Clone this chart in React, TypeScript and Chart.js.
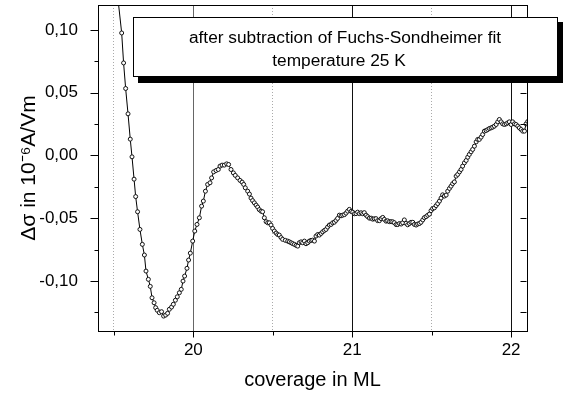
import React, { useEffect, useRef } from 'react';
import { Chart, registerables } from 'chart.js';

Chart.register(...registerables);

// ---- data ----
const coverage = [
  19.519, 19.528, 19.549, 19.561, 19.574, 19.589, 19.603, 19.614, 19.627, 19.637,
  19.649, 19.664, 19.679, 19.692, 19.702, 19.717, 19.729, 19.740, 19.753, 19.763,
  19.773, 19.786, 19.800, 19.813, 19.826, 19.838, 19.849, 19.863, 19.874, 19.887,
  19.899, 19.912, 19.924, 19.935, 19.945, 19.960, 19.970, 19.981, 19.996, 20.009,
  20.023, 20.038, 20.052, 20.063, 20.076, 20.090, 20.105, 20.115, 20.128, 20.143,
  20.157, 20.168, 20.181, 20.195, 20.210, 20.222, 20.237, 20.252, 20.264, 20.279,
  20.294, 20.307, 20.317, 20.327, 20.342, 20.353, 20.363, 20.373, 20.384, 20.395,
  20.405, 20.415, 20.426, 20.436, 20.447, 20.458, 20.468, 20.478, 20.489, 20.499,
  20.510, 20.521, 20.531, 20.541, 20.552, 20.562, 20.579, 20.594, 20.604, 20.615,
  20.625, 20.636, 20.647, 20.657, 20.667, 20.678, 20.688, 20.699, 20.709, 20.720,
  20.730, 20.741, 20.751, 20.762, 20.772, 20.783, 20.793, 20.804, 20.814, 20.825,
  20.835, 20.845, 20.856, 20.867, 20.877, 20.888, 20.898, 20.908, 20.919, 20.930,
  20.940, 20.951, 20.961, 20.971, 20.982, 20.993, 21.003, 21.014, 21.024, 21.034,
  21.045, 21.056, 21.066, 21.076, 21.087, 21.097, 21.108, 21.119, 21.129, 21.139,
  21.150, 21.160, 21.171, 21.182, 21.192, 21.202, 21.213, 21.223, 21.234, 21.245,
  21.255, 21.265, 21.276, 21.286, 21.297, 21.308, 21.318, 21.328, 21.339, 21.349,
  21.360, 21.370, 21.381, 21.391, 21.402, 21.412, 21.423, 21.433, 21.444, 21.454,
  21.465, 21.475, 21.486, 21.496, 21.506, 21.517, 21.528, 21.538, 21.549, 21.559,
  21.569, 21.580, 21.591, 21.601, 21.612, 21.622, 21.632, 21.643, 21.654, 21.664,
  21.675, 21.685, 21.695, 21.706, 21.717, 21.727, 21.737, 21.748, 21.758, 21.769,
  21.780, 21.790, 21.800, 21.811, 21.821, 21.832, 21.843, 21.853, 21.863, 21.874,
  21.884, 21.895, 21.906, 21.916, 21.926, 21.937, 21.947, 21.958, 21.969, 21.979,
  21.989, 22.000, 22.010, 22.021, 22.031, 22.042, 22.052, 22.063, 22.073, 22.084,
  22.094, 22.105,
];

const deltaSigma = [
  0.1508, 0.1222, 0.0977, 0.0738, 0.0534, 0.0332, 0.0130, -0.0011, -0.0189, -0.0328,
  -0.0449, -0.0590, -0.0709, -0.0794, -0.0922, -0.0988, -0.1044, -0.1135, -0.1175, -0.1214,
  -0.1235, -0.1254, -0.1246, -0.1281, -0.1273, -0.1259, -0.1227, -0.1209, -0.1187, -0.1155,
  -0.1127, -0.1095, -0.1068, -0.1002, -0.0962, -0.0900, -0.0834, -0.0779, -0.0683, -0.0603,
  -0.0550, -0.0497, -0.0404, -0.0364, -0.0285, -0.0231, -0.0218, -0.0179, -0.0131, -0.0120,
  -0.0112, -0.0085, -0.0077, -0.0077, -0.0067, -0.0072, -0.0112, -0.0139, -0.0159, -0.0179,
  -0.0199, -0.0213, -0.0231, -0.0258, -0.0285, -0.0308, -0.0340, -0.0360, -0.0378, -0.0396,
  -0.0412, -0.0432, -0.0444, -0.0449, -0.0497, -0.0528, -0.0537, -0.0537, -0.0555, -0.0582,
  -0.0603, -0.0619, -0.0631, -0.0635, -0.0655, -0.0669, -0.0677, -0.0683, -0.0689, -0.0696,
  -0.0703, -0.0709, -0.0717, -0.0723, -0.0696, -0.0689, -0.0696, -0.0683, -0.0704, -0.0696,
  -0.0683, -0.0677, -0.0675, -0.0683, -0.0643, -0.0630, -0.0635, -0.0622, -0.0609, -0.0598,
  -0.0590, -0.0571, -0.0555, -0.0550, -0.0537, -0.0532, -0.0518, -0.0502, -0.0476, -0.0481,
  -0.0476, -0.0472, -0.0460, -0.0444, -0.0430, -0.0446, -0.0452, -0.0465, -0.0464, -0.0452,
  -0.0464, -0.0457, -0.0465, -0.0456, -0.0476, -0.0488, -0.0500, -0.0500, -0.0508, -0.0505,
  -0.0504, -0.0520, -0.0520, -0.0504, -0.0494, -0.0510, -0.0524, -0.0521, -0.0528, -0.0528,
  -0.0529, -0.0536, -0.0551, -0.0551, -0.0543, -0.0547, -0.0537, -0.0514, -0.0541, -0.0553,
  -0.0543, -0.0533, -0.0533, -0.0550, -0.0555, -0.0547, -0.0543, -0.0533, -0.0514, -0.0496,
  -0.0488, -0.0477, -0.0468, -0.0440, -0.0424, -0.0418, -0.0400, -0.0384, -0.0364, -0.0340,
  -0.0314, -0.0324, -0.0316, -0.0285, -0.0263, -0.0245, -0.0225, -0.0211, -0.0165, -0.0151,
  -0.0131, -0.0112, -0.0085, -0.0059, -0.0040, -0.0014, 0.0008, 0.0029, 0.0048, 0.0074,
  0.0108, 0.0128, 0.0128, 0.0146, 0.0167, 0.0194, 0.0199, 0.0207, 0.0215, 0.0220,
  0.0226, 0.0234, 0.0247, 0.0268, 0.0287, 0.0268, 0.0252, 0.0247, 0.0252, 0.0260,
  0.0268, 0.0247, 0.0268, 0.0252, 0.0247, 0.0234, 0.0220, 0.0207, 0.0194, 0.0194,
  0.0252, 0.0271,
];

const xMajorTicks = [20, 21, 22];
const xMinorTicks = [19.5, 20.5, 21.5];
const yMajorTicks = [-0.1, -0.05, 0, 0.05, 0.1];
const yMinorTicks = [-0.125, -0.075, -0.025, 0.025, 0.075];
const xRange = [19.4, 22.1];
const yRange = [-0.14, 0.12];
const xTitle = 'coverage in ML';
const yTitle = 'Δσ in 10⁻⁶A/Vm';
const noteLines = ['after subtraction of Fuchs-Sondheimer fit', 'temperature 25 K'];

const FONT = "'Liberation Sans', Arial, sans-serif";

const isIn = (arr: number[], v: number) => arr.some((a) => Math.abs(a - v) < 1e-9);

const fmtY = (v: number) => {
  const r = Math.round(v * 100) / 100;
  const s = Math.abs(r) < 1e-9 ? '0.00' : r.toFixed(2);
  return s.replace('.', ',');
};

const zeroPad = (s: any) => {
  s.paddingTop = 0;
  s.paddingBottom = 0;
  s.paddingLeft = 0;
  s.paddingRight = 0;
};

const decorPlugin = {
  id: 'decor',
  afterDraw(chart: any) {
    const ctx = chart.ctx as CanvasRenderingContext2D;
    const { left, right, bottom } = chart.chartArea;
    const xs = chart.scales.x;
    const ys = chart.scales.y;
    ctx.save();
    ctx.strokeStyle = '#000';
    ctx.lineWidth = 1;
    ctx.beginPath();
    const L = Math.round(left) + 0.5;
    const R = Math.round(right) - 0.5;
    const B = Math.round(bottom) + 0.5;
    yMajorTicks.forEach((v) => {
      const p = Math.round(ys.getPixelForValue(v)) + 0.5;
      ctx.moveTo(L - 8, p); ctx.lineTo(L, p);
      ctx.moveTo(R - 6, p); ctx.lineTo(R, p);
    });
    yMinorTicks.forEach((v) => {
      const p = Math.round(ys.getPixelForValue(v)) + 0.5;
      ctx.moveTo(L - 4, p); ctx.lineTo(L, p);
      ctx.moveTo(R - 6, p); ctx.lineTo(R, p);
    });
    xMajorTicks.forEach((v) => {
      const p = Math.round(xs.getPixelForValue(v)) + 0.5;
      ctx.moveTo(p, B); ctx.lineTo(p, B + 6);
    });
    xMinorTicks.forEach((v) => {
      const p = Math.round(xs.getPixelForValue(v)) + 0.5;
      ctx.moveTo(p, B); ctx.lineTo(p, B + 4);
    });
    ctx.stroke();

    // annotation text box with drop shadow
    ctx.fillStyle = '#000';
    ctx.fillRect(138, 22, 425, 61);
    ctx.fillStyle = '#fff';
    ctx.fillRect(133, 17, 424, 60);
    ctx.strokeRect(133.5, 17.5, 424, 59);
    ctx.fillStyle = '#000';
    ctx.font = `17.3px ${FONT}`;
    ctx.textAlign = 'center';
    ctx.textBaseline = 'alphabetic';
    ctx.fillText(noteLines[0], 345, 43);
    ctx.fillText(noteLines[1], 339, 66);
    ctx.restore();
  },
};

export default function App() {
  const ref = useRef<HTMLCanvasElement | null>(null);

  useEffect(() => {
    if (!ref.current) return;
    const points = coverage.map((x, i) => ({ x, y: deltaSigma[i] }));
    const chart = new Chart(ref.current, {
      type: 'line',
      data: {
        datasets: [
          {
            data: points,
            borderColor: '#000',
            borderWidth: 1,
            pointRadius: 2,
            pointBorderWidth: 1,
            pointBackgroundColor: '#fff',
            pointBorderColor: '#111',
            tension: 0,
            clip: 0,
            xAxisID: 'x',
            yAxisID: 'y',
          } as any,
        ],
      },
      options: {
        animation: false,
        responsive: false,
        maintainAspectRatio: false,
        layout: { padding: { left: 0, top: 4, right: 36, bottom: 0 } },
        plugins: { legend: { display: false }, tooltip: { enabled: false } },
        scales: {
          x: {
            type: 'linear',
            position: 'bottom',
            min: xRange[0],
            max: xRange[1],
            afterBuildTicks: (s: any) => {
              s.ticks = [...xMinorTicks, ...xMajorTicks].sort((a, b) => a - b).map((v) => ({ value: v }));
            },
            afterFit: (s: any) => { s.height = 67; zeroPad(s); },
            ticks: {
              autoSkip: false,
              maxRotation: 0,
              padding: 9,
              color: '#000',
              font: { family: FONT, size: 17 },
              callback: (v: any) => (isIn(xMajorTicks, Number(v)) ? String(Math.round(Number(v))) : ''),
            },
            grid: {
              display: true,
              drawTicks: false,
              lineWidth: 1,
              color: (c: any) => {
                const v = c.tick ? c.tick.value : 0;
                if (isIn(xMajorTicks, v)) return Math.abs(v - 20) < 1e-9 ? '#666' : '#111';
                return '#aaa';
              },
            },
            border: {
              display: true,
              color: '#000',
              width: 1,
              dash: (c: any) => (c.tick && isIn(xMinorTicks, c.tick.value) ? [1, 2] : []),
            },
            title: {
              display: true,
              text: xTitle,
              color: '#000',
              font: { family: FONT, size: 20 },
              padding: { top: 0, bottom: 6 },
            },
          } as any,
          x2: {
            type: 'linear',
            position: 'top',
            min: xRange[0],
            max: xRange[1],
            afterFit: (s: any) => { s.height = 0; zeroPad(s); },
            ticks: { display: false },
            grid: { display: false },
            border: { display: true, color: '#000', width: 1 },
          } as any,
          y: {
            type: 'linear',
            position: 'left',
            min: yRange[0],
            max: yRange[1],
            afterBuildTicks: (s: any) => {
              s.ticks = [...yMinorTicks, ...yMajorTicks].sort((a, b) => a - b).map((v) => ({ value: v }));
            },
            afterFit: (s: any) => { s.width = 98; zeroPad(s); },
            ticks: {
              autoSkip: false,
              padding: 12,
              color: '#000',
              font: { family: FONT, size: 17 },
              callback: (v: any) => (isIn(yMajorTicks, Number(v)) ? fmtY(Number(v)) : ''),
            },
            grid: { display: false },
            border: { display: true, color: '#000', width: 1 },
            title: {
              display: true,
              text: yTitle,
              color: '#000',
              font: { family: FONT, size: 21 },
              padding: { top: 17, bottom: 0 },
            },
          } as any,
          y2: {
            type: 'linear',
            position: 'right',
            min: yRange[0],
            max: yRange[1],
            afterFit: (s: any) => { s.width = 0; zeroPad(s); },
            ticks: { display: false },
            grid: { display: false },
            border: { display: true, color: '#000', width: 1 },
          } as any,
        },
      },
      plugins: [decorPlugin],
    });
    return () => chart.destroy();
  }, []);

  return (
    <div style={{ position: 'fixed', left: 0, top: 0, width: 563, height: 398, background: '#fff' }}>
      <canvas ref={ref} width={563} height={398} style={{ display: 'block' }} />
    </div>
  );
}
